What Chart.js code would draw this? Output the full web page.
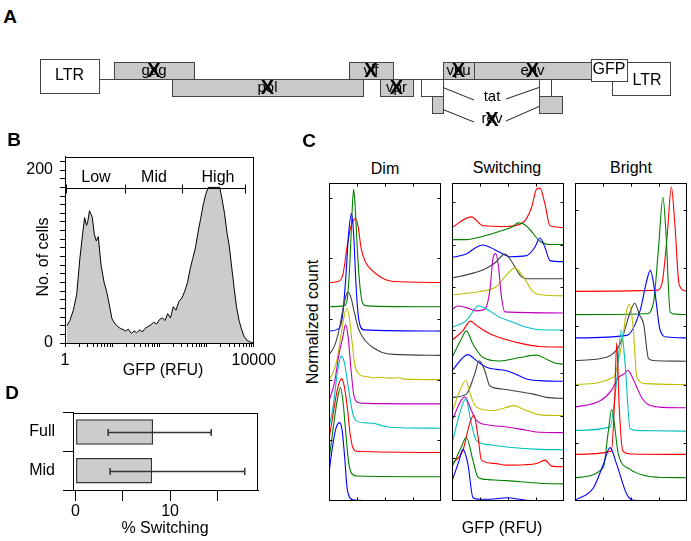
<!DOCTYPE html>
<html>
<head>
<meta charset="utf-8">
<script src="https://cdn.jsdelivr.net/npm/chart.js@4.4.0/dist/chart.umd.min.js"></script>
<style>
  body { margin: 0; background: #fff; }
  #fig { position: relative; width: 691px; height: 541px; overflow: hidden; font-family: "Liberation Sans", Arial, sans-serif; color: #000; }
  canvas { position: absolute; }
  .t { position: absolute; transform: translate(-50%, -50%); white-space: nowrap; font-size: 16px; }
  .L { font-weight: bold; font-size: 19px; }
  .rot { transform: translate(-50%, -50%) rotate(-90deg); }
</style>
</head>
<body>
<div id="fig">
  <canvas id="cA" width="691" height="90" style="left:0;top:40px"></canvas>
  <canvas id="cB" width="280" height="240" style="left:0;top:140px"></canvas>
  <canvas id="cD" width="280" height="146" style="left:0;top:395px"></canvas>
  <canvas id="cDim" width="116" height="322" style="left:327px;top:181px"></canvas>
  <canvas id="cSw" width="116" height="322" style="left:450px;top:181px"></canvas>
  <canvas id="cBr" width="116" height="322" style="left:573px;top:181px"></canvas>

  <div class="t L" style="left:10px;top:17px">A</div>
  <div class="t L" style="left:14px;top:140px">B</div>
  <div class="t L" style="left:309px;top:141px">C</div>
  <div class="t L" style="left:12px;top:393px">D</div>

  <div class="t rot" style="left:43px;top:257px">No. of cells</div>
  <div class="t" style="left:163px;top:370px">GFP (RFU)</div>
  <div class="t" style="left:165px;top:528px">% Switching</div>

  <div class="t" style="left:385px;top:169px">Dim</div>
  <div class="t" style="left:507px;top:168px">Switching</div>
  <div class="t" style="left:631px;top:168px">Bright</div>
  <div class="t rot" style="left:313px;top:322px">Normalized count</div>
  <div class="t" style="left:502px;top:528px">GFP (RFU)</div>
</div>

<script>
// ---- A: genome map (schematic units along the provirus) ----
const geneNames = ['LTR', 'gag', 'pol', 'vif', 'vpr', 'vpu', 'env', 'LTR', 'GFP'];
const geneStart = [40, 114, 172, 349, 380, 443, 474, 612, 591];
const geneEnd   = [99, 194, 363, 393, 413, 474, 591, 670, 627];
const geneFrame = ['ltr5', 'top', 'mid', 'top', 'mid', 'top', 'top', 'ltr3', 'gfp'];
const geneCrossed = [false, true, true, true, true, true, true, false, false];

const exonNames = ['tat', 'tat', 'rev', 'rev'];
const exonStart = [421, 539, 432, 539];
const exonEnd   = [443, 551, 443, 562];
const exonFrame = ['mid', 'mid', 'low', 'low'];
const exonCrossed = [false, false, true, true];

// ---- B: GFP histogram ----
const bGfp = [1.1, 1.27, 1.5, 1.77, 2.05, 2.36, 2.6, 2.86, 3.05, 3.3, 3.55, 3.8, 4.18, 4.6, 5.06,
  5.85, 6.75, 7.6, 8.7, 9.9, 11.5, 13.8, 16.2, 19.3, 22, 25.6, 29, 33, 38, 44, 50, 57, 66, 76, 88,
  100, 115, 132, 150, 172, 197, 225, 260, 300, 345, 395, 450, 510, 580, 660, 750, 850, 960, 1080,
  1300, 1600, 1900, 2150, 2400, 2700, 3030, 3400, 3850, 4300, 4890, 5500, 6200, 7200, 8600, 10000];
const bCount = [20, 26, 38, 56, 96, 126, 145, 136, 141, 153, 149, 145, 126, 118, 123,
  89, 70, 60, 44, 28, 22, 18, 16, 14, 16, 11, 14, 12, 15, 13, 17, 19, 21, 24, 22,
  27, 29, 26, 34, 29, 42, 38, 48, 52, 60, 70, 86, 98, 110, 128, 144, 160, 172, 180,
  180, 180, 180, 165, 150, 128, 112, 88, 63, 42, 26, 16, 8, 3, 1, 0];
const bXTicks = [1, 2, 3, 4, 5, 6, 7, 8, 9, 10, 20, 30, 40, 50, 60, 70, 80, 90, 100, 200, 300, 400,
  500, 600, 700, 800, 900, 1000, 2000, 3000, 4000, 5000, 6000, 7000, 8000, 9000, 10000];
const bXLabels = [1, 10000];
const bYTicks = [0, 10, 20, 30, 40, 50, 60, 70, 80, 90, 100, 110, 120, 130, 140, 150, 160, 170, 180, 190, 200, 210];
const bYLabels = [0, 200];
const gateNames = ['Low', 'Mid', 'High'];
const gateEdges = [1.05, 19, 300, 6500];
const gateLevel = 179;

// ---- D: % switching ----
const dSorts = ['Full', 'Mid'];
const dSwitching = [8.2, 8.1];
const dErrLow = [3.45, 3.65];
const dErrHigh = [14.35, 17.9];
const dXTicks = [0, 5, 10, 15];
const dXLabels = [0, 10];

// ---- C: stacked histograms, x = log10 GFP, listed bottom to top ----
const cXTicks = [1, 2, 3];
const dimYTicks = [2.5, 5, 7.5, 10, 12.5];
const swYTicks = [2.5, 5, 7.5, 10, 12.5, 15, 17.5];
const brYTicks = [2.5, 5, 7.5, 10, 12.5];

const dimLogGfp = [
  [0, 0.12, 0.25, 0.38, 0.47, 0.56, 0.64, 0.74, 0.9, 1.5, 4],
  [0, 0.15, 0.3, 0.41, 0.5, 0.6, 0.7, 0.8, 1.0, 4],
  [0, 0.15, 0.3, 0.45, 0.55, 0.65, 0.75, 0.85, 1.0, 4],
  [0, 0.15, 0.3, 0.44, 0.55, 0.7, 0.85, 1.0, 1.3, 1.6, 1.9, 2.3, 4],
  [0, 0.2, 0.35, 0.5, 0.59, 0.68, 0.78, 0.88, 1.0, 1.3, 4],
  [0, 0.15, 0.3, 0.45, 0.56, 0.64, 0.72, 0.82, 0.92, 1.05, 1.2, 1.4, 1.6, 1.8, 2.1, 2.5, 2.7, 4],
  [0, 0.2, 0.35, 0.5, 0.62, 0.68, 0.78, 0.9, 1.05, 1.3, 1.6, 1.9, 2.3, 4],
  [0, 0.35, 0.48, 0.6, 0.7, 0.8, 0.88, 0.96, 1.04, 1.12, 1.25, 4],
  [0, 0.55, 0.65, 0.74, 0.82, 0.88, 0.94, 1.02, 1.1, 1.2, 1.35, 4],
  [0, 0.35, 0.5, 0.65, 0.78, 0.9, 0.96, 1.04, 1.15, 1.3, 1.45, 1.7, 2.0, 2.3, 4]
];
const dimHeight = [
  [1.16, 2.2, 3.0, 3.23, 2.9, 1.8, 0.6, 0.14, 0.04, 0.02, 0],
  [0.68, 2.0, 3.2, 3.68, 3.1, 1.8, 0.6, 0.15, 0.03, 0],
  [0.55, 1.6, 2.6, 3.04, 2.7, 1.9, 0.8, 0.2, 0.05, 0],
  [0.04, 0.9, 2.3, 2.97, 2.7, 1.6, 0.6, 0.28, 0.22, 0.2, 0.1, 0.03, 0],
  [0.11, 0.9, 2.0, 2.8, 3.27, 2.8, 1.5, 0.4, 0.08, 0.02, 0],
  [0, 0.3, 0.9, 2.0, 2.7, 2.93, 2.6, 1.6, 0.6, 0.25, 0.15, 0.12, 0.07, 0.1, 0.06, 0.08, 0.02, 0],
  [0.02, 0.4, 1.0, 1.9, 2.5, 2.6, 2.4, 1.8, 1.1, 0.6, 0.3, 0.12, 0.04, 0],
  [0, 0.1, 0.6, 2.2, 4.0, 4.84, 4.0, 2.0, 0.7, 0.2, 0.05, 0],
  [0, 0.05, 0.3, 1.7, 3.8, 4.84, 4.0, 2.2, 0.9, 0.15, 0.04, 0],
  [0, 0.05, 0.35, 1.5, 2.3, 2.6, 2.63, 2.3, 1.4, 0.85, 0.6, 0.34, 0.12, 0.04, 0]
];

const swLogGfp = [
  [0, 0.25, 0.39, 0.57, 0.75, 1.0, 1.35, 1.95, 2.66, 4],
  [0, 0.33, 0.51, 0.75, 0.93, 1.3, 1.95, 3.14, 4],
  [0, 0.39, 0.63, 0.78, 0.93, 1.05, 1.5, 1.95, 2.6, 3.02, 3.32, 3.56, 4],
  [0, 0.27, 0.49, 0.69, 0.87, 1.3, 1.95, 3.14, 4],
  [0, 0.45, 0.69, 0.87, 1.3, 1.95, 2.66, 3.14, 4],
  [0, 0.33, 0.49, 0.69, 0.87, 1.47, 1.9, 2.19, 2.66, 3.14, 4],
  [0, 0.51, 0.81, 0.97, 1.17, 1.35, 1.8, 2.19, 2.9, 3.38, 4],
  [0, 0.57, 0.87, 1.23, 1.6, 1.95, 2.3, 2.66, 3.14, 4],
  [0, 0.33, 0.51, 0.75, 1.11, 1.71, 2.42, 3.02, 3.38, 3.74, 4],
  [0, 0.39, 0.66, 0.87, 1.35, 1.95, 2.54, 3.14, 4],
  [0, 0.51, 0.81, 0.93, 1.23, 1.71, 2.19, 2.66, 3.14, 4],
  [0, 0.21, 0.51, 0.87, 1.17, 1.35, 1.47, 1.56, 1.65, 1.77, 1.89, 4],
  [0, 0.99, 1.59, 1.95, 2.24, 2.54, 2.84, 3.14, 4],
  [0, 0.75, 1.23, 1.53, 1.89, 2.13, 2.42, 2.66, 4],
  [0, 0.51, 0.87, 1.11, 1.35, 1.71, 2.07, 2.66, 2.96, 3.14, 3.32, 3.5, 4],
  [0, 0.51, 1.11, 1.71, 2.19, 2.36, 2.54, 2.78, 3.14, 3.5, 4],
  [0, 0.69, 1.11, 1.95, 2.54, 2.84, 3.02, 3.14, 3.32, 3.5, 4]
];
const swHeight = [
  [1.17, 2.34, 3.02, 2.14, 0.19, 0.1, 0.1, 0.19, 0.04, 0],
  [0.97, 2.14, 2.73, 1.36, 0.39, 0.25, 0.19, 0.04, 0],
  [0.19, 0.97, 2.53, 3.02, 1.75, 0.39, 0.2, 0.1, 0.12, 0.19, 0.39, 0.04, 0],
  [0.35, 2.1, 2.98, 1.52, 0.55, 0.3, 0.16, 0.02, 0],
  [0.72, 2.09, 1.31, 0.72, 0.45, 0.33, 0.14, 0.02, 0],
  [0.19, 1.66, 2.05, 1.07, 0.49, 0.29, 0.45, 0.58, 0.29, 0.04, 0],
  [0.06, 0.25, 1.42, 2.2, 1.62, 0.74, 0.55, 0.45, 0.25, 0.06, 0],
  [0.62, 1.56, 1.21, 0.82, 0.7, 0.62, 0.4, 0.14, 0.04, 0],
  [0.39, 1.46, 1.95, 1.17, 0.39, 0.19, 0.39, 0.53, 0.29, 0.04, 0],
  [0.39, 0.97, 1.52, 1.27, 0.78, 0.43, 0.19, 0.04, 0],
  [0.16, 0.55, 1.23, 1.42, 1.23, 0.74, 0.45, 0.16, 0.02, 0],
  [0.21, 0.41, 0.31, 0.12, 0.21, 1.29, 3.24, 3.47, 2.85, 0.9, 0.06, 0],
  [0.06, 0.25, 0.55, 1.23, 1.62, 1.13, 0.35, 0.06, 0],
  [0.04, 0.33, 0.62, 0.92, 1.44, 1.01, 0.23, 0, 0],
  [0.25, 0.45, 0.84, 0.97, 0.84, 0.55, 0.29, 0.35, 0.84, 1.38, 0.84, 0.06, 0],
  [0.29, 0.29, 0.49, 0.78, 1.07, 1.27, 1.21, 0.88, 0.19, 0, 0],
  [0, 0.62, 0.1, 0.06, 0.29, 1.17, 2.24, 2.3, 1.36, 0.1, 0]
];

const brLogGfp = [
  [0, 0.66, 1.01, 1.25, 1.49, 1.85, 2.09, 4],
  [0, 1.01, 1.19, 1.31, 1.55, 1.97, 2.57, 3.0, 4],
  [0, 1.3, 1.42, 1.49, 1.58, 1.71, 2.0, 4],
  [0, 1.25, 1.49, 1.65, 1.79, 1.97, 2.3, 4],
  [0, 0.9, 1.3, 1.55, 1.75, 1.89, 2.05, 2.2, 2.4, 2.6, 3.0, 4],
  [0, 1.37, 1.67, 1.85, 1.95, 2.08, 2.21, 2.5, 4],
  [0, 1.13, 1.61, 1.97, 2.13, 2.3, 2.45, 2.63, 2.9, 4],
  [0, 1.85, 2.33, 2.55, 2.69, 2.85, 3.04, 3.28, 4],
  [0, 2.55, 2.8, 2.98, 3.14, 3.25, 3.4, 3.6, 4],
  [0, 2.9, 3.1, 3.3, 3.44, 3.56, 3.72, 3.9, 4]
];
const brHeight = [
  [0.03, 0.57, 1.57, 2.29, 1.57, 0.29, 0.03, 0],
  [0, 0.43, 2.0, 2.93, 1.0, 0.36, 0.07, 0.02, 0],
  [0, 0.14, 2.5, 4.79, 2.0, 0.14, 0.02, 0],
  [0.03, 0.17, 2.17, 4.34, 2.89, 0.1, 0.02, 0],
  [0.03, 0.3, 0.75, 1.3, 1.45, 1.6, 1.3, 0.9, 0.4, 0.15, 0.03, 0],
  [0, 0.31, 1.74, 3.2, 3.43, 2.4, 0.31, 0.04, 0],
  [0.03, 0.17, 0.74, 2.1, 2.49, 2.0, 1.6, 0.1, 0.02, 0],
  [0, 0.11, 1.19, 2.4, 2.9, 2.0, 0.33, 0.04, 0],
  [0, 0.04, 0.5, 2.8, 5.04, 3.5, 0.11, 0.02, 0],
  [0, 0.04, 0.3, 2.5, 4.48, 3.0, 0.3, 0.04, 0]
];

// ---- styles ----
const lineColors = ['#0000ff', '#008000', '#ff0000', '#00bfbf', '#bf00bf', '#bfbf00', '#404040'];
const frameY = { ltr5: [59, 93], top: [62, 79], mid: [79, 96], low: [96, 113], gfp: [59, 81], ltr3: [62, 95] };
const geneWhite = ['LTR', 'GFP', 'tat'];
const bigLabels = ['LTR', 'GFP'];
const labelShift = { 7: [6, 2] };

Chart.defaults.font.family = '"Liberation Sans", Arial, sans-serif';
Chart.defaults.font.size = 16;
Chart.defaults.color = '#000';

const common = {
  responsive: false,
  animation: false,
  events: [],
  plugins: { legend: { display: false }, tooltip: { enabled: false } }
};

const boxPlugin = {
  id: 'box',
  afterDraw(chart) {
    const a = chart.chartArea, ctx = chart.ctx;
    ctx.save();
    ctx.strokeStyle = '#000';
    ctx.lineWidth = 1;
    ctx.strokeRect(Math.round(a.left) + 0.5, Math.round(a.top) + 0.5,
      Math.round(a.right - a.left) - 1, Math.round(a.bottom - a.top));
    ctx.restore();
  }
};

// A
const genomePlugin = {
  id: 'genome',
  afterDraw(chart) {
    const { ctx, scales: { x, y } } = chart;
    const px = v => Math.round(x.getPixelForValue(v)) + 0.5;
    const py = v => Math.round(y.getPixelForValue(v)) + 0.5;
    ctx.save();
    ctx.lineWidth = 1;
    ctx.strokeStyle = '#444';
    ctx.beginPath();
    ctx.moveTo(px(geneEnd[0]), py(frameY.top[1]));
    ctx.lineTo(px(geneStart[8]), py(frameY.top[1]));
    ctx.stroke();

    function box(name, s, e, frame) {
      const [t, b] = frameY[frame];
      ctx.fillStyle = geneWhite.includes(name) ? '#ffffff' : '#c9c9c9';
      ctx.fillRect(px(s), py(t), px(e) - px(s), py(b) - py(t));
      ctx.strokeRect(px(s), py(t), px(e) - px(s), py(b) - py(t));
    }
    exonNames.forEach((n, i) => box(n, exonStart[i], exonEnd[i], exonFrame[i]));
    geneNames.forEach((n, i) => box(n, geneStart[i], geneEnd[i], geneFrame[i]));

    ctx.textAlign = 'center';
    ctx.textBaseline = 'middle';
    function label(name, cx, cy, crossed) {
      ctx.fillStyle = '#000';
      ctx.font = (bigLabels.includes(name) ? '16px' : '15px') + ' "Liberation Sans", Arial, sans-serif';
      ctx.fillText(name, cx, cy);
      if (crossed) {
        ctx.font = 'bold 20px "Liberation Sans", Arial, sans-serif';
        ctx.fillText('X', cx, cy + 1);
      }
    }
    geneNames.forEach((n, i) => {
      const [t, b] = frameY[geneFrame[i]];
      const sh = labelShift[i] || [0, 0];
      label(n, x.getPixelForValue((geneStart[i] + geneEnd[i]) / 2) + sh[0],
        y.getPixelForValue((t + b) / 2) + sh[1], geneCrossed[i]);
    });

    // spliced tat / rev labels between their two exons
    ctx.strokeStyle = '#222';
    [['tat', 0, 1, 97], ['rev', 2, 3, 119]].forEach(([name, e1, e2, ly]) => {
      const x1 = x.getPixelForValue(exonEnd[e1]);
      const x2 = x.getPixelForValue(exonStart[e2]);
      const cx = (x1 + x2) / 2;
      const fy = frameY[exonFrame[e1]];
      const sy = y.getPixelForValue((fy[0] + fy[1]) / 2 + (name === 'rev' ? 5 : 0));
      const lyp = y.getPixelForValue(ly);
      ctx.beginPath();
      ctx.moveTo(x1, sy); ctx.lineTo(cx - 17, lyp + 3);
      ctx.moveTo(cx + 15, lyp + 2); ctx.lineTo(x2, sy - (name === 'rev' ? 3 : 0));
      ctx.stroke();
      label(name, cx + 1, lyp, exonCrossed[e1]);
    });
    ctx.restore();
  }
};

new Chart(document.getElementById('cA'), {
  type: 'scatter',
  data: { datasets: [] },
  options: Object.assign({}, common, {
    layout: { autoPadding: false, padding: 0 },
    scales: {
      x: { type: 'linear', min: 0, max: 691, display: false },
      y: { type: 'linear', min: 40, max: 130, reverse: true, display: false }
    }
  }),
  plugins: [genomePlugin]
});

// B
const gatePlugin = {
  id: 'gates',
  afterDatasetsDraw(chart) {
    const { ctx, scales: { x, y } } = chart;
    const gy = Math.round(y.getPixelForValue(gateLevel)) + 0.5;
    const xs = gateEdges.map(v => Math.round(x.getPixelForValue(v)) + 0.5);
    ctx.save();
    ctx.strokeStyle = '#000';
    ctx.lineWidth = 1;
    ctx.beginPath();
    ctx.moveTo(xs[0], gy); ctx.lineTo(xs[xs.length - 1], gy);
    xs.forEach(v => { ctx.moveTo(v, gy - 4); ctx.lineTo(v, gy + 5); });
    ctx.stroke();
    ctx.fillStyle = '#000';
    ctx.font = '16px "Liberation Sans", Arial, sans-serif';
    ctx.textAlign = 'center';
    ctx.textBaseline = 'middle';
    gateNames.forEach((n, i) => ctx.fillText(n, (xs[i] + xs[i + 1]) / 2 + (i === 2 ? 4 : 0), gy - 11));
    ctx.restore();
  }
};

new Chart(document.getElementById('cB'), {
  type: 'line',
  data: {
    datasets: [{
      data: bGfp.map((g, i) => ({ x: g, y: bCount[i] })),
      borderColor: '#000', borderWidth: 1, backgroundColor: '#cccccc',
      fill: 'origin', pointRadius: 0, tension: 0
    }]
  },
  options: Object.assign({}, common, {
    layout: { autoPadding: false, padding: { left: 0, top: 10, right: 22, bottom: 0 } },
    scales: {
      x: {
        type: 'logarithmic', min: 1, max: 10000,
        afterFit(s) { s.height = 37; },
        afterBuildTicks(s) { s.ticks = bXTicks.map(v => ({ value: v })); },
        grid: { drawOnChartArea: false, tickLength: 4, color: '#000' },
        border: { color: '#000' },
        ticks: { autoSkip: false, maxRotation: 0, padding: 4, callback: v => bXLabels.includes(v) ? String(v) : '' }
      },
      y: {
        min: 0, max: 215.6,
        afterFit(s) { s.width = 65; },
        afterBuildTicks(s) { s.ticks = bYTicks.map(v => ({ value: v })); },
        grid: { drawOnChartArea: false, tickLength: 5, color: '#000' },
        border: { color: '#000' },
        ticks: { autoSkip: false, padding: 7, callback: v => bYLabels.includes(v) ? String(v) : '' }
      }
    }
  }),
  plugins: [boxPlugin, gatePlugin]
});

// D
const errorBarPlugin = {
  id: 'errorBars',
  afterDatasetsDraw(chart) {
    const { ctx, scales: { x } } = chart;
    const meta = chart.getDatasetMeta(0);
    ctx.save();
    ctx.strokeStyle = '#333';
    ctx.lineWidth = 1.5;
    meta.data.forEach((bar, i) => {
      const yy = Math.round(bar.y) + 0.5;
      const x1 = x.getPixelForValue(dErrLow[i]);
      const x2 = x.getPixelForValue(dErrHigh[i]);
      ctx.beginPath();
      ctx.moveTo(x1, yy); ctx.lineTo(x2, yy);
      ctx.moveTo(x1, yy - 3.5); ctx.lineTo(x1, yy + 3.5);
      ctx.moveTo(x2, yy - 3.5); ctx.lineTo(x2, yy + 3.5);
      ctx.stroke();
    });
    ctx.restore();
  }
};

new Chart(document.getElementById('cD'), {
  type: 'bar',
  data: {
    labels: dSorts,
    datasets: [{
      data: dSwitching, backgroundColor: '#cccccc', borderColor: '#333',
      borderWidth: 1.5, borderSkipped: false, barPercentage: 0.66, categoryPercentage: 1
    }]
  },
  options: Object.assign({}, common, {
    indexAxis: 'y',
    layout: { autoPadding: false, padding: { left: 0, top: 9, right: 22, bottom: 0 } },
    scales: {
      x: {
        min: -0.27, max: 19.3,
        afterFit(s) { s.height = 51; },
        afterBuildTicks(s) { s.ticks = dXTicks.map(v => ({ value: v })); },
        grid: { drawOnChartArea: false, tickLength: 11, color: '#000' },
        border: { color: '#000' },
        ticks: { autoSkip: false, maxRotation: 0, padding: 1, callback: v => dXLabels.includes(v) ? String(v) : '' }
      },
      y: {
        afterFit(s) { s.width = 73; },
        grid: { offset: true, drawOnChartArea: false, tickLength: 10, color: '#000' },
        border: { color: '#000' },
        ticks: { padding: 8 }
      }
    }
  }),
  plugins: [boxPlugin, errorBarPlugin]
});

// C
function innerTicks(yTicks) {
  return {
    id: 'innerTicks',
    afterDraw(chart) {
      const { ctx, chartArea: a, scales: { x, y } } = chart;
      ctx.save();
      ctx.strokeStyle = '#000';
      ctx.lineWidth = 1;
      const L = Math.round(a.left) + 0.5, R = Math.round(a.right) - 0.5;
      const T = Math.round(a.top) + 0.5, B = Math.round(a.bottom) - 0.5;
      ctx.strokeRect(L, T, R - L, B - T);
      ctx.beginPath();
      cXTicks.forEach(v => {
        const p = Math.round(x.getPixelForValue(v)) + 0.5;
        ctx.moveTo(p, T); ctx.lineTo(p, T + 3);
        ctx.moveTo(p, B); ctx.lineTo(p, B - 3);
      });
      yTicks.forEach(v => {
        const p = Math.round(y.getPixelForValue(v)) + 0.5;
        ctx.moveTo(L, p); ctx.lineTo(L + 3, p);
        ctx.moveTo(R, p); ctx.lineTo(R - 3, p);
      });
      ctx.stroke();
      ctx.restore();
    }
  };
}

function stackChart(id, xs, hs, yMax, yTicks) {
  const datasets = xs.map((xArr, i) => ({
    data: xArr.map((v, j) => ({ x: v, y: hs[i][j] + i })),
    borderColor: lineColors[i % lineColors.length],
    borderWidth: 1.1, pointRadius: 0, fill: false,
    cubicInterpolationMode: 'monotone'
  }));
  new Chart(document.getElementById(id), {
    type: 'line',
    data: { datasets },
    options: Object.assign({}, common, {
      layout: { autoPadding: false, padding: 2 },
      scales: {
        x: { type: 'linear', min: 0, max: 4, display: false },
        y: { type: 'linear', min: 0, max: yMax, display: false }
      }
    }),
    plugins: [innerTicks(yTicks)]
  });
}

stackChart('cDim', dimLogGfp, dimHeight, 13.1, dimYTicks);
stackChart('cSw', swLogGfp, swHeight, 18.6, swYTicks);
stackChart('cBr', brLogGfp, brHeight, 13.65, brYTicks);
</script>
</body>
</html>
